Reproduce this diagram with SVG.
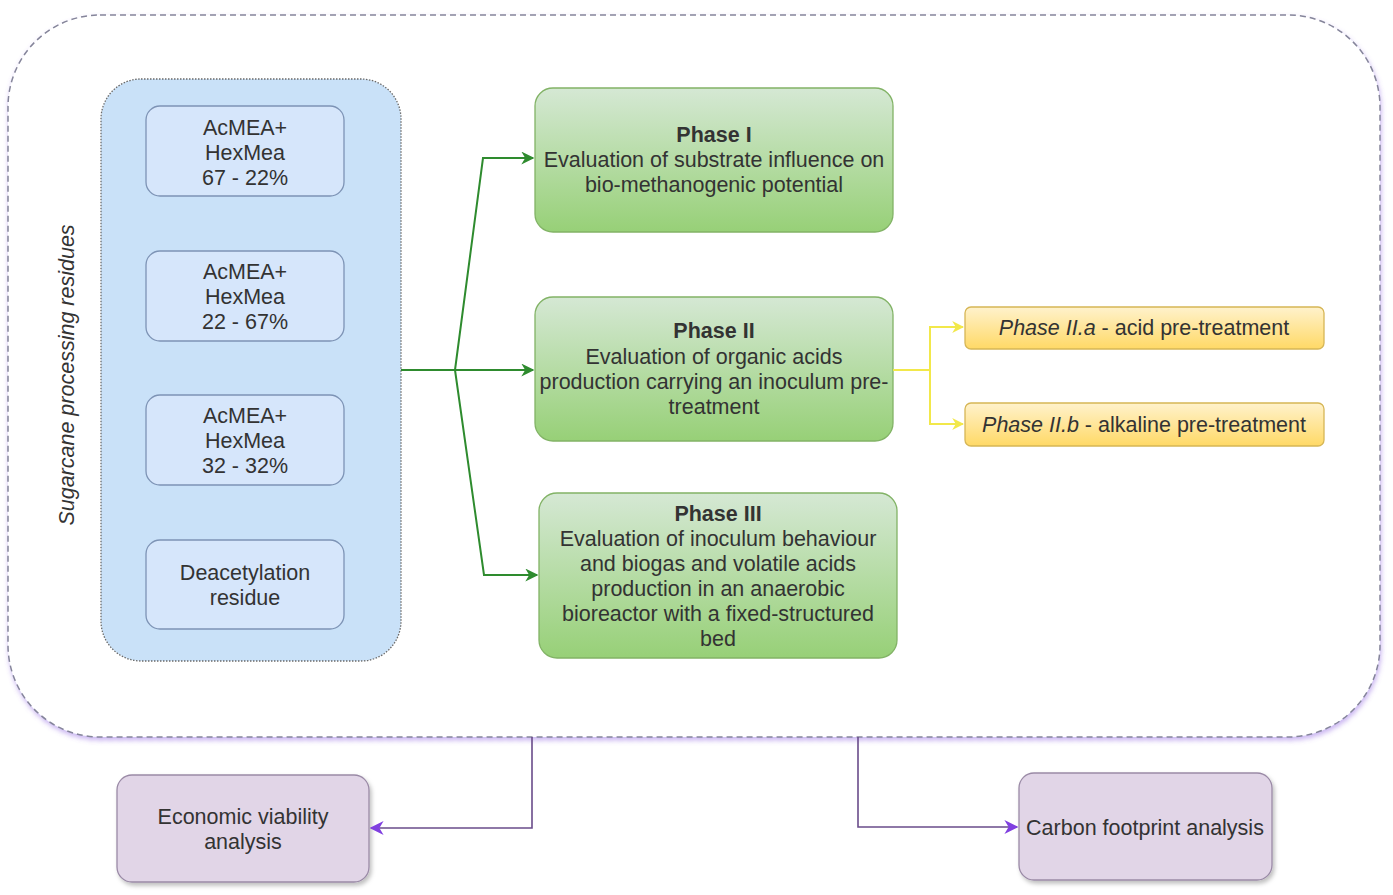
<svg xmlns="http://www.w3.org/2000/svg" width="1393" height="895" viewBox="0 0 1393 895">
<style>
text{font-family:"Liberation Sans",Arial,sans-serif;font-size:21.5px;fill:#333;text-anchor:middle}
.b{font-weight:bold}
.i{font-style:italic}
.inner{fill:#d6e6fb;stroke:#7d93b5;stroke-width:1.3}
.green{fill:url(#gg);stroke:#82b366;stroke-width:1.3}
.yel{fill:url(#yg);stroke:#d6b656;stroke-width:1.3}
.pur{fill:#e1d5e7;stroke:#9a8aa6;stroke-width:1.3}
.gl{fill:none;stroke:#2e8b2e;stroke-width:2}
.yl{fill:none;stroke:#f2e84a;stroke-width:2}
.pl{fill:none;stroke:#6a4c8a;stroke-width:1.6}
</style>
<defs>
<linearGradient id="gg" x1="0" y1="0" x2="0" y2="1"><stop offset="0" stop-color="#d5e8d4"/><stop offset="1" stop-color="#97d077"/></linearGradient>
<linearGradient id="yg" x1="0" y1="0" x2="0" y2="1"><stop offset="0" stop-color="#fff2cc"/><stop offset="1" stop-color="#ffd966"/></linearGradient>
<filter id="sh" x="-10%" y="-10%" width="130%" height="140%"><feDropShadow dx="2" dy="3" stdDeviation="2" flood-color="#000" flood-opacity="0.25"/></filter>
<filter id="psh" x="-5%" y="-5%" width="110%" height="115%"><feDropShadow dx="1" dy="3" stdDeviation="2.5" flood-color="#8a5ae0" flood-opacity="0.45"/></filter>
<marker id="ag" viewBox="0 0 10 10" refX="9" refY="5" markerWidth="13" markerHeight="13" markerUnits="userSpaceOnUse" orient="auto"><path d="M0,0 L10,5 L0,10 L3,5 Z" fill="#2e8b2e"/></marker>
<marker id="ay" viewBox="0 0 10 10" refX="9" refY="5" markerWidth="12" markerHeight="12" markerUnits="userSpaceOnUse" orient="auto"><path d="M0,0 L10,5 L0,10 L3,5 Z" fill="#f2e84a"/></marker>
<marker id="ap" viewBox="0 0 10 10" refX="9" refY="5" markerWidth="14" markerHeight="14" markerUnits="userSpaceOnUse" orient="auto"><path d="M0,0 L10,5 L0,10 L3,5 Z" fill="#8040e0"/></marker>
</defs>
<rect width="1393" height="895" fill="#fff"/>

<g id="container">
<rect x="8" y="15" width="1372" height="722" rx="92" fill="#fff" stroke="#85859a" stroke-width="1.5" stroke-dasharray="6 4" filter="url(#psh)"/>
</g>

<g id="residues">
<rect x="101" y="79" width="300" height="582" rx="40" fill="#c9e1f8" stroke="#6a6a6a" stroke-width="1.3" stroke-dasharray="1.5 1.5"/>
<text class="i" transform="translate(74,375) rotate(-90)">Sugarcane processing residues</text>
</g>

<g id="mix1"><rect class="inner" x="146" y="106" width="198" height="90" rx="14"/><text x="245" y="135">AcMEA+</text><text x="245" y="160">HexMea</text><text x="245" y="185">67 - 22%</text></g>
<g id="mix2"><rect class="inner" x="146" y="251" width="198" height="90" rx="14"/><text x="245" y="279">AcMEA+</text><text x="245" y="304">HexMea</text><text x="245" y="329">22 - 67%</text></g>
<g id="mix3"><rect class="inner" x="146" y="395" width="198" height="90" rx="14"/><text x="245" y="423">AcMEA+</text><text x="245" y="448">HexMea</text><text x="245" y="473">32 - 32%</text></g>
<g id="deac"><rect class="inner" x="146" y="540" width="198" height="89" rx="14"/><text x="245" y="580">Deacetylation</text><text x="245" y="605">residue</text></g>

<g id="phase1"><rect class="green" x="535" y="88" width="358" height="144" rx="18"/>
<text class="b" x="714" y="142">Phase I</text><text x="714" y="167">Evaluation of substrate influence on</text><text x="714" y="192">bio-methanogenic potential</text></g>
<g id="phase2"><rect class="green" x="535" y="297" width="358" height="144" rx="18"/>
<text class="b" x="714" y="338">Phase II</text><text x="714" y="364">Evaluation of organic acids</text><text x="714" y="389">production carrying an inoculum pre-</text><text x="714" y="414">treatment</text></g>
<g id="phase3"><rect class="green" x="539" y="493" width="358" height="165" rx="18"/>
<text class="b" x="718" y="521">Phase III</text><text x="718" y="546">Evaluation of inoculum behaviour</text><text x="718" y="571">and biogas and volatile acids</text><text x="718" y="596">production in an anaerobic</text><text x="718" y="621">bioreactor with a fixed-structured</text><text x="718" y="646">bed</text></g>

<g id="phase2a"><rect class="yel" x="965" y="307" width="359" height="42" rx="6"/><text x="1144" y="335"><tspan class="i">Phase II.a</tspan> - acid pre-treatment</text></g>
<g id="phase2b"><rect class="yel" x="965" y="403" width="359" height="43" rx="6"/><text x="1144" y="432"><tspan class="i">Phase II.b</tspan> - alkaline pre-treatment</text></g>

<g id="econ"><rect class="pur" x="117" y="775" width="252" height="107" rx="15" filter="url(#sh)"/><text x="243" y="824">Economic viability</text><text x="243" y="849">analysis</text></g>
<g id="carbon"><rect class="pur" x="1019" y="773" width="253" height="107" rx="15" filter="url(#sh)"/><text x="1145" y="835">Carbon footprint analysis</text></g>

<g id="connectors">
<path class="gl" d="M401,370 H533" marker-end="url(#ag)"/>
<path class="gl" stroke-width="1.6" d="M455,370 L483,158 H533" marker-end="url(#ag)"/>
<path class="gl" stroke-width="1.6" d="M455,370 L484,575 H537" marker-end="url(#ag)"/>
<path class="yl" d="M893,370 H930"/>
<path class="yl" d="M930,370 V327 H963" marker-end="url(#ay)"/>
<path class="yl" d="M930,370 V424 H963" marker-end="url(#ay)"/>
<path class="pl" d="M532,737 V828 H371" marker-end="url(#ap)"/>
<path class="pl" d="M858,737 V827 H1017" marker-end="url(#ap)"/>
</g>
</svg>
